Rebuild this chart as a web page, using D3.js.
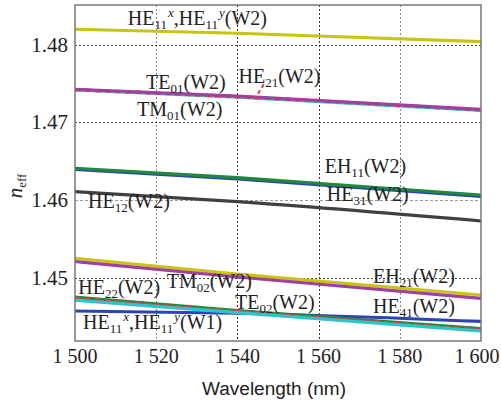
<!DOCTYPE html>
<html>
<head>
<meta charset="utf-8">
<script src="https://cdn.jsdelivr.net/npm/d3@7"></script>
<style>
  body { margin: 0; background: #fff; }
  svg { display: block; }
</style>
</head>
<body>
<svg id="chart" width="501" height="405"></svg>
<script>
// wavelengths where the curves were read (nm)
const wavelength = [1500, 1540, 1600];

// effective index of each mode, one array per curve
const he11_w2 = [1.48198, 1.48147, 1.48039];
const te01_w2 = [1.47427, 1.47340, 1.47169];
const tm01_w2 = [1.47418, 1.47326, 1.47154];
const he21_w2 = [1.47421, 1.47330, 1.47160];
const eh11_w2 = [1.46411, 1.46290, 1.46067];
const he31_w2 = [1.46395, 1.46275, 1.46050];
const he12_w2 = [1.46110, 1.45981, 1.45733];
const eh21_w2 = [1.45253, 1.45051, 1.44781];
const tm02_w2 = [1.45212, 1.45013, 1.44739];
const he22_w2 = [1.44755, 1.44580, 1.44350];
const te02_w2 = [1.44715, 1.44555, 1.44320];
const he41_w2 = [1.44740, 1.44570, 1.44340];
const he11_w1 = [1.44576, 1.44547, 1.44442];

const xTicks = [1500, 1520, 1540, 1560, 1580, 1600];
const xTickLabels = ["1 500", "1 520", "1 540", "1 560", "1 580", "1 600"];
const yTicks = [1.45, 1.46, 1.47, 1.48];

// mode labels (markup: _{sub} ^{sup})
const labelText = [
  "HE_{11}^{x},HE_{11}^{y}(W2)", "TE_{01}(W2)", "TM_{01}(W2)", "HE_{21}(W2)",
  "EH_{11}(W2)", "HE_{31}(W2)", "HE_{12}(W2)", "EH_{21}(W2)", "HE_{41}(W2)",
  "HE_{22}(W2)", "TM_{02}(W2)", "TE_{02}(W2)", "HE_{11}^{x},HE_{11}^{y}(W1)"
];
const labelWave = [1513, 1517.5, 1515.3, 1540.3, 1561.5, 1562, 1503.2, 1573.4, 1573.4, 1500.8, 1522.6, 1539.4, 1502];
const labelN    = [1.48253, 1.47428, 1.47081, 1.47509, 1.46352, 1.45993, 1.45894, 1.44936, 1.44551, 1.44791, 1.44877, 1.44596, 1.44350];

const svg = d3.select("#chart");
const margin = {top: 5, right: 20, bottom: 64, left: 75};
const width = +svg.attr("width") - margin.left - margin.right;
const height = +svg.attr("height") - margin.top - margin.bottom;

const x = d3.scaleLinear().domain([1500, 1600]).range([0, width]);
const y = d3.scaleLinear().domain([1.4419, 1.4851]).range([height, 0]);

const g = svg.append("g").attr("transform", `translate(${margin.left},${margin.top})`);

// grid
g.append("g").selectAll("line")
  .data(xTicks.slice(1, -1))
  .join("line")
  .attr("x1", d => Math.round(x(d)) + 0.5).attr("x2", d => Math.round(x(d)) + 0.5)
  .attr("y1", 0).attr("y2", height)
  .attr("stroke", d => (d == 1540 || d == 1560) ? "#333" : "#888")
  .attr("stroke-width", 1)
  .attr("stroke-dasharray", "2,2");

g.append("g").selectAll("line")
  .data(yTicks)
  .join("line")
  .attr("x1", 0).attr("x2", width)
  .attr("y1", d => Math.round(y(d)) + 0.5).attr("y2", d => Math.round(y(d)) + 0.5)
  .attr("stroke", d => d == 1.46 ? "#999" : "#444")
  .attr("stroke-width", 1)
  .attr("stroke-dasharray", d => d == 1.46 ? "3,2" : "2,2");

// curves
const curves = [
  {v: he11_w2, c: "#c8c414"},
  {v: tm01_w2, c: "#2ec4cc"},
  {v: he21_w2, c: "#e8383a", dash: "6,4"},
  {v: te01_w2, c: "#a0409e"},
  {v: he31_w2, c: "#2a44b4"},
  {v: eh11_w2, c: "#218a3a"},
  {v: he12_w2, c: "#404040"},
  {v: eh21_w2, c: "#c8c414"},
  {v: tm02_w2, c: "#a0409e"},
  {v: he11_w1, c: "#2a44b4"},
  {v: he22_w2, c: "#218a3a"},
  {v: he41_w2, c: "#e8383a", dash: "6,4"},
  {v: te02_w2, c: "#2ec4cc"}
];

const line = d3.line()
  .x((d, i) => x(wavelength[i]))
  .y(d => y(d))
  .curve(d3.curveMonotoneX);

g.append("g").selectAll("path")
  .data(curves)
  .join("path")
  .attr("d", d => line(d.v))
  .attr("fill", "none")
  .attr("stroke", d => d.c)
  .attr("stroke-width", 3.2)
  .attr("stroke-dasharray", d => d.dash || null);

// leader for HE21
g.append("line")
  .attr("x1", x(1546.5)).attr("y1", y(1.47490))
  .attr("x2", x(1544.3)).attr("y2", y(1.47305))
  .attr("stroke", "#e8383a").attr("stroke-width", 2)
  .attr("stroke-dasharray", "4,3");

// frame
g.append("rect")
  .attr("x", 0).attr("y", 0).attr("width", width).attr("height", height)
  .attr("fill", "none").attr("stroke", "#777").attr("stroke-width", 1.5);

// mode labels
function addRich(sel, str) {
  const re = /([_^])\{([^}]*)\}|([^_^]+)/g;
  let m, shift = 0;
  while ((m = re.exec(str)) !== null) {
    if (m[3]) {
      sel.append("tspan").attr("dy", -shift).text(m[3]);
      shift = 0;
    } else {
      const dy = m[1] == "_" ? 4 : -8;
      const t = sel.append("tspan").attr("dy", dy - shift).attr("font-size", 13).text(m[2]);
      if (m[1] == "^") t.attr("font-style", "italic").attr("dx", 1);
      shift = dy;
    }
  }
}

const labels = g.append("g")
  .attr("font-family", "'Liberation Serif', 'Times New Roman', serif")
  .attr("font-size", 20)
  .attr("fill", "#222");

labelText.forEach((t, i) => {
  const txt = labels.append("text").attr("x", x(labelWave[i])).attr("y", y(labelN[i]));
  addRich(txt, t);
});

// axes tick labels
g.append("g").selectAll("text")
  .data(xTicks)
  .join("text")
  .attr("x", d => d == 1600 ? x(d) - 4 : x(d)).attr("y", height + 22)
  .attr("text-anchor", "middle")
  .attr("font-family", "'Liberation Serif', serif").attr("font-size", 20).attr("fill", "#222")
  .text((d, i) => xTickLabels[i]);

g.append("g").selectAll("text")
  .data(yTicks)
  .join("text")
  .attr("x", -7).attr("y", d => y(d) + 7)
  .attr("text-anchor", "end")
  .attr("font-family", "'Liberation Serif', serif").attr("font-size", 21).attr("fill", "#222")
  .text(d => d3.format(".2f")(d));

// axis titles
svg.append("text")
  .attr("x", 274).attr("y", 395)
  .attr("text-anchor", "middle")
  .attr("font-family", "'Liberation Sans', Arial, sans-serif").attr("font-size", 19).attr("fill", "#222")
  .text("Wavelength (nm)");

const yl = svg.append("text")
  .attr("transform", "translate(22,186) rotate(-90)")
  .attr("text-anchor", "middle")
  .attr("font-family", "'Liberation Serif', serif").attr("font-size", 21).attr("fill", "#222");
yl.append("tspan").attr("font-style", "italic").text("n");
yl.append("tspan").attr("dy", 4).attr("font-size", 13).text("eff");
</script>
</body>
</html>
